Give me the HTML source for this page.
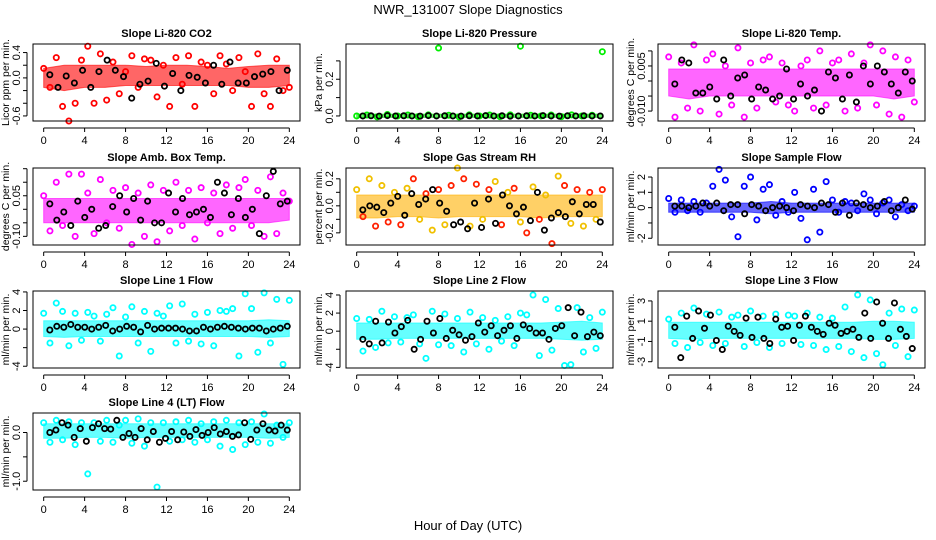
<!DOCTYPE html>
<html><head><meta charset="utf-8">
<style>
html,body{margin:0;padding:0;background:#fff;}
svg{display:block;font-family:"Liberation Sans",Arial,sans-serif;}
</style></head>
<body>
<svg id="chart" width="936" height="540" viewBox="0 0 936 540" xmlns="http://www.w3.org/2000/svg">
<text x="468" y="14" text-anchor="middle" font-size="13">NWR_131007  Slope Diagnostics</text>
<text x="468" y="530" text-anchor="middle" font-size="13">Hour of Day (UTC)</text>
</svg>
<script>
const xTicks = [0,4,8,12,16,20,24];
const titles = ["Slope Li-820 CO2","Slope Li-820 Pressure","Slope Li-820 Temp.","Slope Amb. Box Temp.","Slope Gas Stream RH","Slope Sample Flow","Slope Line 1 Flow","Slope Line 2 Flow","Slope Line 3 Flow","Slope Line 4 (LT) Flow"];
const yTitles = ["Licor ppm per min.","kPa per min.","degrees C per min.","degrees C per min.","percent per min.","ml/min per min.","ml/min per min.","ml/min per min.","ml/min per min.","ml/min per min."];
const yMins = [-0.68,-0.0275,-0.0133,-0.132,-0.29,-2.44,-4.19,-4.07,-3.62,-1.18];
const yMaxs = [0.535,0.392,0.0123,0.1526,0.28,2.59,4.1,4.44,3.98,0.4];
const yTickVals = [[-0.6,-0.4,-0.2,0,0.2,0.4],[0,0.1,0.2,0.3],[-0.01,-0.005,0,0.005,0.01],[-0.1,-0.05,0,0.05,0.1,0.15],[-0.2,-0.1,0,0.1,0.2],[-2,-1,0,1,2],[-4,-2,0,2,4],[-4,-2,0,2,4],[-3,-1,1,3],[-1,-0.5,0]];
const yTickLabels = [["-0.6","","","0.0","","0.4"],["0.0","","0.2",""],["-0.010","","","0.005",""],["-0.10","","","0.05","",""],["-0.2","","0.0","","0.2"],["-2","","0","1","2"],["-4","","0","2","4"],["-4","","0","2","4"],["-3","-1","1","3"],["-1.0","","0.0"]];
const colors = ["#ff0000","#00ee00","#ff00ff","#ff00ff","#ff9900","#0000ff","#00ffff","#00ffff","#00ffff","#00ffff"];
const bandLo = [
[-0.15,-0.2,-0.15,-0.15,-0.12,-0.12,-0.12,-0.12,-0.12,-0.12,-0.15,-0.15,-0.12],
[-0.008,-0.008,-0.008,-0.008,-0.008,-0.008,-0.008,-0.008,-0.008,-0.008,-0.008,-0.008,-0.008],
[-0.005,-0.006,-0.005,-0.005,-0.005,-0.005,-0.005,-0.005,-0.005,-0.005,-0.005,-0.006,-0.005],
[-0.05,-0.05,-0.05,-0.05,-0.05,-0.05,-0.05,-0.05,-0.05,-0.05,-0.05,-0.05,-0.04],
[-0.09,-0.09,-0.08,-0.08,-0.09,-0.08,-0.08,-0.08,-0.08,-0.09,-0.08,-0.08,-0.08],
[-0.3,-0.3,-0.3,-0.3,-0.3,-0.4,-0.3,-0.3,-0.3,-0.3,-0.3,-0.3,-0.3],
[-0.8,-0.9,-0.8,-0.8,-0.8,-0.8,-0.8,-0.8,-0.8,-0.8,-0.8,-0.9,-0.8],
[-0.9,-0.9,-0.8,-0.8,-0.8,-0.8,-0.8,-0.8,-0.8,-0.8,-0.9,-1.0,-0.9],
[-0.7,-0.8,-0.7,-0.7,-0.7,-0.7,-0.7,-0.7,-0.7,-0.7,-0.8,-0.8,-0.7],
[-0.12,-0.12,-0.1,-0.1,-0.12,-0.1,-0.1,-0.1,-0.1,-0.1,-0.1,-0.12,-0.1]];
const bandHi = [
[0.15,0.2,0.2,0.2,0.2,0.18,0.2,0.2,0.18,0.15,0.18,0.2,0.2],
[0.01,0.01,0.01,0.01,0.01,0.01,0.01,0.01,0.01,0.01,0.01,0.01,0.01],
[0.004,0.004,0.004,0.004,0.004,0.004,0.004,0.004,0.004,0.004,0.004,0.004,0.004],
[0.04,0.04,0.04,0.04,0.04,0.04,0.04,0.04,0.04,0.04,0.04,0.04,0.04],
[0.08,0.08,0.08,0.08,0.08,0.08,0.08,0.08,0.08,0.08,0.08,0.08,0.08],
[0.3,0.3,0.3,0.3,0.3,0.4,0.3,0.3,0.3,0.3,0.3,0.3,0.3],
[0.9,0.9,0.9,0.9,0.9,0.9,0.9,0.9,0.9,0.9,0.9,1.0,0.9],
[0.9,0.9,0.9,0.9,0.9,0.9,0.9,0.9,0.9,0.9,1.0,1.1,0.9],
[0.9,0.9,0.9,0.9,0.9,0.9,0.9,0.9,0.9,0.9,1.0,1.0,0.9],
[0.18,0.18,0.18,0.18,0.18,0.18,0.18,0.18,0.18,0.18,0.18,0.18,0.18]];
const scatterVals = [
[0.15,-0.15,0.32,-0.45,-0.68,-0.4,0.28,0.5,-0.4,0.38,-0.35,0.25,-0.25,0.1,0.35,-0.15,0.3,0.28,-0.3,0.2,-0.45,0.32,-0.1,0.35,-0.45,0.25,0.2,-0.25,0.35,0.22,-0.2,0.32,0.1,-0.45,0.38,-0.25,-0.45,0.3,-0.2,-0.15],
[0.0,0.005,-0.005,0.008,0.0,0.005,-0.004,0.006,0.37,0.004,-0.005,0.006,0.0,0.005,-0.004,0.006,0.38,0.004,0.0,0.005,-0.004,0.006,0.0,0.004,0.35],
[0.008,-0.012,0.006,-0.009,0.012,-0.01,0.007,0.009,-0.011,0.005,-0.008,0.011,-0.012,0.006,-0.009,0.007,0.008,-0.007,0.006,-0.008,-0.01,0.005,0.007,-0.009,0.01,-0.008,0.006,0.007,-0.01,0.009,-0.009,0.006,0.012,-0.008,0.01,-0.011,0.008,-0.012,0.007,-0.007],
[0.05,-0.08,0.1,-0.06,0.13,-0.1,0.13,0.06,-0.09,0.11,-0.05,0.07,-0.07,0.08,-0.13,0.06,-0.1,0.09,-0.12,0.07,-0.08,0.1,-0.06,0.07,-0.11,0.08,-0.05,0.06,-0.09,0.09,-0.07,0.08,0.11,-0.06,0.07,-0.1,0.12,-0.09,0.06,0.03],
[0.12,-0.08,0.2,-0.15,0.15,-0.12,0.1,-0.14,0.13,0.2,-0.1,0.09,-0.18,0.12,-0.14,0.15,0.28,0.2,-0.15,0.16,-0.1,0.12,0.18,-0.14,0.1,0.13,-0.12,-0.2,0.14,-0.1,0.08,-0.28,0.22,0.15,-0.13,0.12,-0.15,0.1,-0.1,0.12],
[0.6,-0.3,0.5,-0.2,0.4,-0.3,0.3,1.4,2.5,1.8,-0.6,-1.9,1.4,2.0,-0.8,1.2,1.5,-0.5,0.4,-0.3,1.0,-0.7,-2.1,1.2,-1.6,1.7,0.5,-0.3,0.4,0.3,-0.2,0.9,0.5,-0.4,0.3,0.5,-0.6,0.2,-0.2,0.1],
[1.7,-1.5,2.8,1.9,-1.8,1.7,-1.2,1.8,1.4,-1.3,1.6,2.3,-2.9,1.3,2.4,-1.5,1.9,-2.4,1.7,1.4,2.5,-1.5,2.7,-1.3,1.6,-1.6,1.8,-1.8,2.0,1.9,2.2,-2.9,3.8,2.2,-2.5,3.9,-1.5,3.2,-3.8,3.1],
[1.4,-2.2,1.3,-1.8,2.2,-1.3,1.6,-1.2,1.5,1.8,-1.4,-3.0,2.2,-1.5,1.9,-1.6,1.4,-2.3,2.1,-1.4,1.5,-2.0,1.2,-1.1,1.6,-1.6,2.0,1.8,4.0,-2.7,3.5,-2.1,2.5,-3.8,-3.7,2.6,-2.3,1.5,-1.9,2.1],
[1.2,-1.2,1.8,-1.6,2.3,-1.1,1.7,-1.4,1.9,-1.2,1.4,1.6,-1.5,2.0,-1.1,1.5,-1.6,1.7,-1.2,1.6,1.5,-1.3,1.8,-1.4,1.4,-1.8,1.3,-1.5,2.4,-2.0,3.6,-2.6,3.1,-2.2,-3.3,1.8,-1.4,2.2,-2.5,2.1],
[0.2,-0.2,0.25,-0.15,0.22,-0.25,0.2,-0.85,0.2,-0.18,0.25,-0.2,0.15,0.25,-0.22,0.28,-0.28,0.2,-1.12,0.2,-0.18,0.22,-0.15,0.25,-0.2,0.18,-0.15,0.22,-0.28,0.25,-0.35,0.2,-0.25,0.22,-0.2,0.38,-0.22,0.15,-0.1,0.2]];
const meanVals = [
[0.05,-0.15,0.03,-0.08,0.12,-0.15,0.1,0.28,0.12,0.02,-0.32,-0.1,-0.05,0.23,-0.13,0.07,-0.2,0.04,0.01,-0.08,0.2,-0.1,0.25,-0.08,-0.08,0.02,0.06,0.1,-0.2,0.12],
[0.0,0.001,-0.001,0.002,0.0,0.001,0.0,-0.001,0.002,0.0,0.001,0.0,-0.001,0.001,0.0,0.002,0.0,0.001,-0.001,0.0,0.001,0.0,0.002,0.0,-0.001,0.001,0.0,0.001,0.0,0.0],
[-0.001,0.007,0.006,-0.004,-0.004,-0.002,-0.006,0.007,-0.005,0.001,0.002,-0.006,-0.002,-0.003,-0.006,-0.005,0.004,-0.006,-0.001,-0.005,-0.003,-0.01,0.003,0.001,-0.006,0.002,-0.007,0.005,-0.001,0.005,0.003,-0.001,-0.004,0.003,0.0],
[0.02,-0.04,-0.01,-0.06,0.03,-0.03,0.0,-0.07,-0.06,0.01,0.05,-0.01,0.04,-0.04,0.03,-0.05,-0.05,0.06,-0.01,0.04,-0.02,-0.01,0.0,-0.03,0.1,0.06,-0.02,0.04,-0.03,0.0,-0.09,0.05,0.14,0.02,0.03],
[-0.03,0.0,-0.01,-0.05,0.02,0.07,-0.07,0.09,0.01,0.05,0.12,0.02,-0.04,-0.14,-0.12,-0.17,0.02,-0.16,0.05,-0.13,0.08,0.0,-0.06,-0.01,-0.11,0.1,-0.18,-0.09,-0.05,-0.08,0.03,-0.06,0.01,0.01,-0.12],
[0.1,0.1,0.0,0.1,0.3,0.1,0.3,-0.2,0.2,0.2,-0.4,0.2,0.1,-0.2,0.0,0.1,0.0,-0.2,0.2,0.1,0.0,0.3,0.2,-0.3,0.3,-0.5,0.3,0.2,0.0,0.1,0.4,-0.2,0.0,0.5,-0.1],
[-0.1,0.3,0.2,0.5,0.2,0.2,0.0,0.2,0.4,-0.2,0.0,0.3,0.2,-0.3,0.4,0.0,0.1,0.1,0.1,0.0,-0.2,-0.2,0.2,0.0,0.2,0.3,0.2,0.1,0.0,0.1,0.1,-0.2,0.0,0.1,0.3],
[-0.9,-1.4,1.1,-1.3,1.0,-0.2,0.5,1.2,-2.0,-0.9,1.1,-0.2,1.4,-0.8,0.1,-0.4,-1.0,-0.6,0.9,-0.1,0.6,-0.5,0.1,0.6,-0.8,0.7,0.3,-0.2,-0.2,-0.9,0.3,0.6,2.6,-0.5,2.1,-0.6,-0.1,-0.5],
[0.4,-2.6,1.5,-0.7,2.0,0.3,1.6,-0.9,-1.8,0.5,0.0,-0.4,1.3,-0.6,1.4,-0.7,-1.2,1.2,0.4,0.5,-0.9,0.6,1.5,0.4,0.0,-0.3,0.8,0.6,-0.2,0.0,0.2,-0.6,1.8,-0.7,2.9,0.8,-0.7,2.8,0.2,-0.5,-1.7],
[0.0,0.05,0.2,0.15,-0.1,0.08,-0.18,0.1,0.18,0.08,0.07,0.25,-0.1,-0.02,-0.1,0.08,-0.15,0.02,-0.2,-0.12,0.02,-0.15,0.01,-0.08,0.06,-0.06,0.0,0.1,-0.03,0.02,-0.08,-0.05,0.2,-0.14,0.05,0.18,0.05,0.03,0.15,0.05]];

const NS = "http://www.w3.org/2000/svg";
const svg = document.getElementById("chart");
const colLeft = [33,346,658], colW = 267;
const rowTop = [44,168,291,413], rowH = 77;
function mk(tag, attrs, parent){ const e=document.createElementNS(NS,tag); for(const k in attrs) e.setAttribute(k,attrs[k]); (parent||svg).appendChild(e); return e; }

titles.forEach((t,p)=>{
  const col=p%3, row=Math.floor(p/3);
  const L=colLeft[col], T=rowTop[row], R=L+colW, B=T+rowH;
  const x0=L+colW*0.04, x1=R-colW*0.04;
  const xs = h => x0 + (h/24)*(x1-x0);
  const ys = v => B - (v-yMins[p])/(yMaxs[p]-yMins[p])*rowH;
  const g = mk("g",{});
  
  
  const clip = mk("clipPath",{id:"c"+p},g); mk("rect",{x:L,y:T,width:colW,height:rowH},clip);
  const lo=bandLo[p], hi=bandHi[p]; let d="";
  hi.forEach((v,i)=>{ d += (i?"L":"M")+xs(i*24/(hi.length-1)).toFixed(1)+","+ys(v).toFixed(1); });
  for(let i=lo.length-1;i>=0;i--) d += "L"+xs(i*24/(lo.length-1)).toFixed(1)+","+ys(lo[i]).toFixed(1);
  const band = mk("path",{d:d+"Z",fill:colors[p],"fill-opacity":0.6,stroke:colors[p],"stroke-opacity":0.6,"stroke-width":1,"clip-path":"url(#c"+p+")"},g);
  
  
  if(p===4){ band.setAttribute("fill","#ffb000"); band.setAttribute("stroke","#ffb000"); }
  const sv = scatterVals[p];
  sv.forEach((v,i)=>{
    const c = mk("circle",{cx:xs(i*24/(sv.length-1)),cy:ys(v),r:2.6,fill:"none",stroke:(p===4?(i%2?"#ff2000":"#f0c000"):colors[p]),"stroke-width":1.8},g);
    
    
  });
  const mv = meanVals[p];
  mv.forEach((v,i)=>{
    const c = mk("circle",{cx:xs(0.6+i*23.2/(mv.length-1)),cy:ys(v),r:2.6,fill:"none",stroke:"#000","stroke-width":1.8},g);
    
    
  });
  const box = mk("rect",{x:L,y:T,width:colW,height:rowH,fill:"none",stroke:"#000","stroke-width":1},g);
  
  
  const tt = mk("text",{x:(L+R)/2,y:T-7,"text-anchor":"middle","font-size":11,"font-weight":"bold"},g);
  tt.textContent=t;
  
  
  mk("line",{x1:x0,x2:x1,y1:B+7,y2:B+7,stroke:"#000"},g);
  xTicks.forEach(h=>{
    mk("line",{x1:xs(h),x2:xs(h),y1:B+7,y2:B+11,stroke:"#000"},g);
    const lt = mk("text",{x:xs(h),y:B+23,"text-anchor":"middle","font-size":11},g);
    lt.textContent=h;
    
    
  });
  const tv=yTickVals[p];
  mk("line",{x1:L-6,x2:L-6,y1:ys(tv[0]),y2:ys(tv[tv.length-1]),stroke:"#000"},g);
  tv.forEach((v,i)=>{
    mk("line",{x1:L-10,x2:L-6,y1:ys(v),y2:ys(v),stroke:"#000"},g);
    const lab=yTickLabels[p][i];
    if(lab){
      const yt = mk("text",{x:0,y:0,"text-anchor":"middle","font-size":11,transform:"translate("+(L-13)+","+ys(v)+") rotate(-90)"},g);
      yt.textContent=lab;
      
      
    }
  });
  const yl = mk("text",{x:0,y:0,"text-anchor":"middle","font-size":10.5,transform:"translate("+(L-24)+","+(T+rowH/2)+") rotate(-90)"},g);
  yl.textContent=yTitles[p];
  
  
});
</script>
</body></html>
